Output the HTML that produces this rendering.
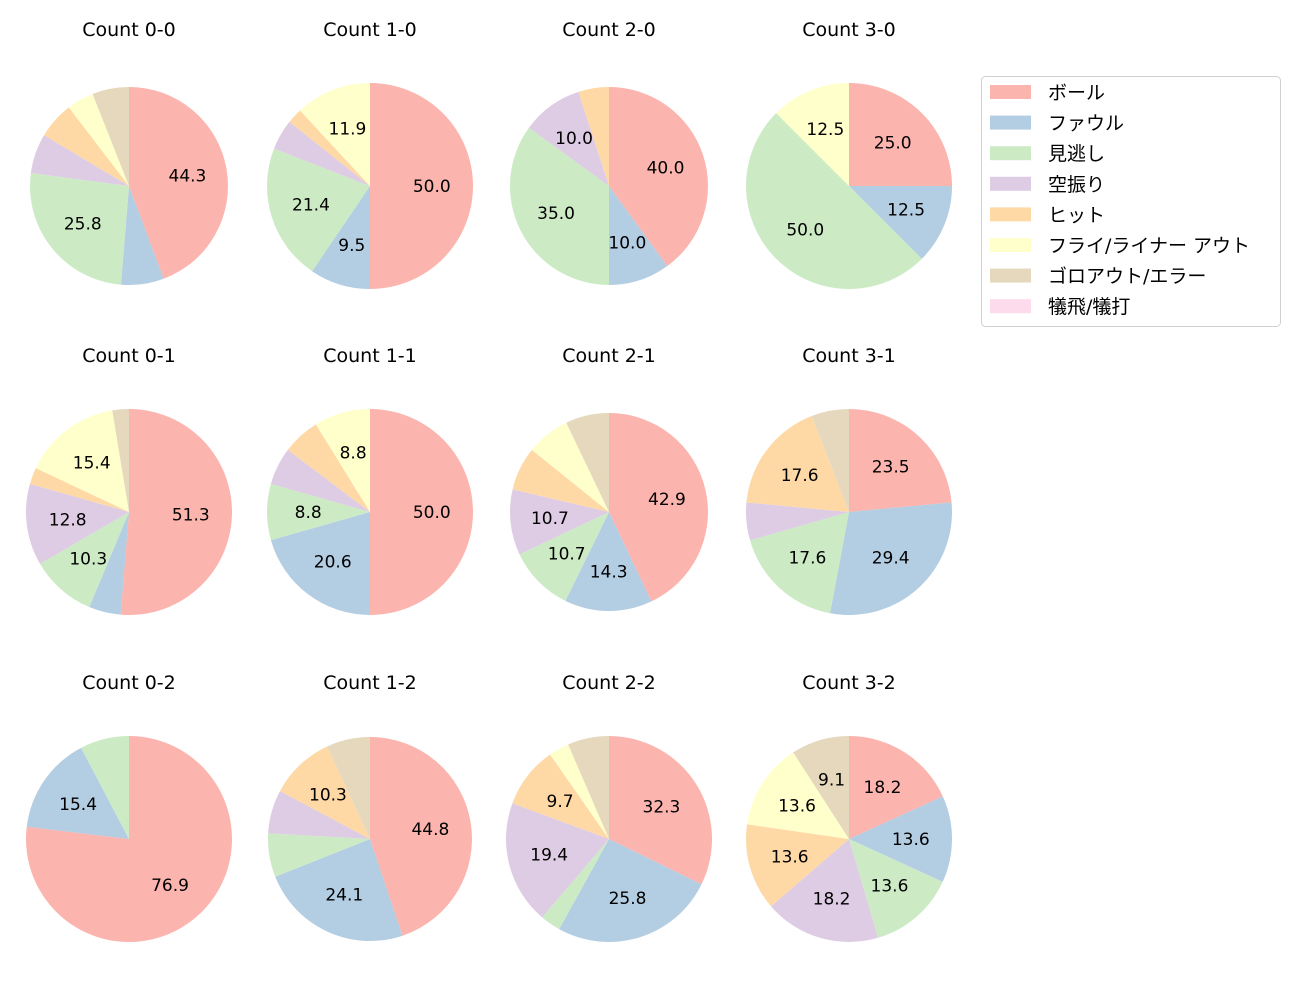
<!DOCTYPE html>
<html><head><meta charset="utf-8">
<style>
body{margin:0;background:#fff;}
svg text{font-family:"DejaVu Sans","Noto Sans CJK JP",sans-serif;fill:#000;}
</style></head>
<body>
<svg id="chart" width="1300" height="1000" xmlns="http://www.w3.org/2000/svg">
<rect width="1300" height="1000" fill="#fff"/>
<g id="pies"></g>
<g id="legend">
<rect x="981.5" y="76.5" width="299" height="250" rx="4" fill="#fff" stroke="#d0d0d0"/>
</g>
</svg>
<script>
const categories = ["ボール","ファウル","見逃し","空振り","ヒット","フライ/ライナー アウト","ゴロアウト/エラー","犠飛/犠打"];
const titles = ["Count 0-0","Count 1-0","Count 2-0","Count 3-0","Count 0-1","Count 1-1","Count 2-1","Count 3-1","Count 0-2","Count 1-2","Count 2-2","Count 3-2"];
const v00 = [44.3,7.0,25.8,6.5,6.0,4.4,6.0,0];
const v10 = [50.0,9.5,21.4,4.8,2.4,11.9,0,0];
const v20 = [40.0,10.0,35.0,10.0,5.0,0,0,0];
const v30 = [25.0,12.5,50.0,0,0,12.5,0,0];
const v01 = [51.3,5.0,10.3,12.8,2.6,15.4,2.6,0];
const v11 = [50.0,20.6,8.8,5.9,5.9,8.8,0,0];
const v21 = [42.9,14.3,10.7,10.7,7.1,7.1,7.1,0];
const v31 = [23.5,29.4,17.6,5.9,17.6,0,5.9,0];
const v02 = [76.9,15.4,7.7,0,0,0,0,0];
const v12 = [44.8,24.1,6.9,6.9,10.3,0,6.9,0];
const v22 = [32.3,25.8,3.2,19.4,9.7,3.2,6.5,0];
const v32 = [18.2,13.6,13.6,18.2,13.6,13.6,9.1,0];
const series = [v00,v10,v20,v30,v01,v11,v21,v31,v02,v12,v22,v32];

const colors = ["#fbb4ae","#b3cde3","#ccebc5","#decbe4","#fed9a6","#ffffcc","#e5d8bd","#fddaec"];
const colX = [129,370,609,849];
const rowY = [186,512,839];
const radii = [99,103,99,103,103,103,99,103,103,102,103,103];
const NS = "http://www.w3.org/2000/svg";
const pies = document.getElementById("pies");

function mk(tag, attrs){const e=document.createElementNS(NS,tag);for(const k in attrs)e.setAttribute(k,attrs[k]);return e;}

series.forEach((vals,i)=>{
  const cx = colX[i%4], cy = rowY[Math.floor(i/4)], r = radii[i];
  const g = mk("g",{});
  
  
  const total = vals.reduce((a,b)=>a+b,0);
  let a0 = 90;
  vals.forEach((v,j)=>{
    if(v<=0) return;
    const sweep = v/total*360, a1 = a0-sweep;
    const t0=a0*Math.PI/180, t1=a1*Math.PI/180;
    const x0=cx+r*Math.cos(t0), y0=cy-r*Math.sin(t0), x1=cx+r*Math.cos(t1), y1=cy-r*Math.sin(t1);
    let el;
    if(sweep>=359.99){ el = mk("circle",{cx:cx,cy:cy,r:r,fill:colors[j]}); }
    else el = mk("path",{d:`M${cx},${cy} L${x0},${y0} A${r},${r} 0 ${sweep>180?1:0} 1 ${x1},${y1} Z`,fill:colors[j]});
    
    
    g.appendChild(el);
    if(v/total*100>=8){
      const tm=(a0+a1)/2*Math.PI/180;
      const t = mk("text",{x:cx+0.6*r*Math.cos(tm),y:cy-0.6*r*Math.sin(tm)+6,"text-anchor":"middle","font-size":"17"});
      t.textContent=v.toFixed(1);
      
      
      g.appendChild(t);
    }
    a0=a1;
  });
  const tt = mk("text",{x:cx,y:rowY[Math.floor(i/4)]-150,"text-anchor":"middle","font-size":"19"});
  tt.textContent=titles[i];
  
  
  g.appendChild(tt);
  pies.appendChild(g);
});

const lg = document.getElementById("legend");
categories.forEach((c,j)=>{
  const y = 92 + j*30.6;
  const sw = mk("rect",{x:990,y:y-7,width:41,height:14,fill:colors[j]});
  
  
  lg.appendChild(sw);
  const t = mk("text",{x:1048,y:y+7,"font-size":"19"});
  t.textContent=c;
  
  
  lg.appendChild(t);
});
</script>
</body></html>
